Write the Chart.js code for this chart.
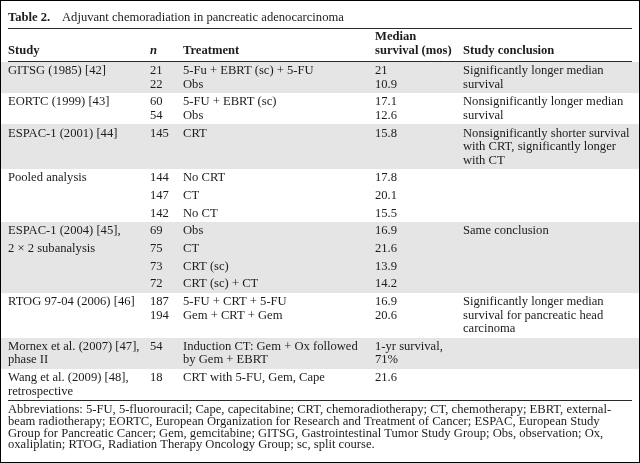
<!DOCTYPE html>
<html>
<head>
<meta charset="utf-8">
<script src="https://cdn.jsdelivr.net/npm/chart.js@4/dist/chart.umd.min.js"></script>
<style>
  html, body { margin: 0; padding: 0; background: #ffffff; }
  #wrap { width: 640px; height: 463px; position: relative; }
</style>
</head>
<body>
<div id="wrap"><canvas id="c" width="640" height="463"></canvas></div>
<script>
// ---------- DATA ----------
const tableNumber = "Table 2.";
const tableTitle = "Adjuvant chemoradiation in pancreatic adenocarcinoma";

const headers = [["Study"], ["n"], ["Treatment"], ["Median", "survival (mos)"], ["Study conclusion"]];

const studies = [
  ["GITSG (1985) [42]"],
  ["EORTC (1999) [43]"],
  ["ESPAC-1 (2001) [44]"],
  ["Pooled analysis"],
  [],
  [],
  ["ESPAC-1 (2004) [45],"],
  ["2 \u00d7 2 subanalysis"],
  [],
  [],
  ["RTOG 97-04 (2006) [46]"],
  ["Mornex et al. (2007) [47],", "phase II"],
  ["Wang et al. (2009) [48],", "retrospective"]
];

const patients = [
  ["21", "22"],
  ["60", "54"],
  ["145"],
  ["144"],
  ["147"],
  ["142"],
  ["69"],
  ["75"],
  ["73"],
  ["72"],
  ["187", "194"],
  ["54"],
  ["18"]
];

const treatments = [
  ["5-Fu + EBRT (sc) + 5-FU", "Obs"],
  ["5-FU + EBRT (sc)", "Obs"],
  ["CRT"],
  ["No CRT"],
  ["CT"],
  ["No CT"],
  ["Obs"],
  ["CT"],
  ["CRT (sc)"],
  ["CRT (sc) + CT"],
  ["5-FU + CRT + 5-FU", "Gem + CRT + Gem"],
  ["Induction CT: Gem + Ox followed", "by Gem + EBRT"],
  ["CRT with 5-FU, Gem, Cape"]
];

const medianSurvival = [
  ["21", "10.9"],
  ["17.1", "12.6"],
  ["15.8"],
  ["17.8"],
  ["20.1"],
  ["15.5"],
  ["16.9"],
  ["21.6"],
  ["13.9"],
  ["14.2"],
  ["16.9", "20.6"],
  ["1-yr survival,", "71%"],
  ["21.6"]
];

const conclusions = [
  ["Significantly longer median", "survival"],
  ["Nonsignificantly longer median", "survival"],
  ["Nonsignificantly shorter survival", "with CRT, significantly longer", "with CT"],
  [],
  [],
  [],
  ["Same conclusion"],
  [],
  [],
  [],
  ["Significantly longer median", "survival for pancreatic head", "carcinoma"],
  [],
  []
];

// study group each row belongs to (alternate groups are shaded)
const studyGroup = [0, 1, 2, 3, 3, 3, 4, 4, 4, 4, 5, 6, 7];

const footnote = [
  "Abbreviations: 5-FU, 5-fluorouracil; Cape, capecitabine; CRT, chemoradiotherapy; CT, chemotherapy; EBRT, external-",
  "beam radiotherapy; EORTC, European Organization for Research and Treatment of Cancer; ESPAC, European Study",
  "Group for Pancreatic Cancer; Gem, gemcitabine; GITSG, Gastrointestinal Tumor Study Group; Obs, observation; Ox,",
  "oxaliplatin; RTOG, Radiation Therapy Oncology Group; sc, split course."
];

// ---------- LAYOUT / STYLE ----------
const W = 640, H = 463;
const FONT = "'Liberation Serif', 'Times New Roman', serif";
const FS = 12.6;
const TEXT = "#1c1c1c";
const SHADE = "#e5e5e5";
const RULE = "#2a2a2a";
const COLX = [8, 150, 183, 375, 463];
const RULE_L = 8, RULE_R = 632;
const TITLE_Y = 18, TITLE_X2 = 62, TITLE_RULE = 28;
const HEAD_Y2 = 51, HEAD_LH = 14, HEAD_RULE = 61;
const BODY_TOP = 62, LH = 13.5, PAD = 4.2;
const FOOT_RULE = 400, FOOT_Y = 410, FOOT_LH = 11.7;

const columns = [studies, patients, treatments, medianSurvival, conclusions];

const tablePlugin = {
  id: 'tablePlugin',
  beforeDraw(chart) {
    const ctx = chart.ctx;
    const xs = chart.scales.x, ys = chart.scales.y;
    const px = v => xs.getPixelForValue(v);
    const py = v => ys.getPixelForValue(v);

    ctx.save();
    ctx.fillStyle = '#ffffff';
    ctx.fillRect(0, 0, W, H);

    // row layout
    let y = BODY_TOP;
    const rows = [];
    for (let i = 0; i < studies.length; i++) {
      const lines = Math.max(1, ...columns.map(c => c[i].length));
      const h = lines * LH + PAD;
      rows.push({ top: y, h: h });
      y += h;
    }

    // shading bands
    ctx.fillStyle = SHADE;
    rows.forEach((r, i) => {
      if (studyGroup[i] % 2 === 0) {
        const t = py(r.top), b = py(r.top + r.h);
        ctx.fillRect(px(1), Math.round(t), px(W - 1) - px(1), Math.round(b) - Math.round(t));
      }
    });

    // rules
    ctx.strokeStyle = RULE;
    ctx.lineWidth = 1;
    [TITLE_RULE, HEAD_RULE, FOOT_RULE].forEach(ry => {
      const yy = Math.round(py(ry)) + 0.5;
      ctx.beginPath();
      ctx.moveTo(px(RULE_L), yy);
      ctx.lineTo(px(RULE_R), yy);
      ctx.stroke();
    });

    // title
    ctx.fillStyle = TEXT;
    ctx.textBaseline = 'middle';
    ctx.textAlign = 'left';
    ctx.font = `bold ${FS}px ${FONT}`;
    ctx.fillText(tableNumber, px(COLX[0]), py(TITLE_Y));
    ctx.font = `${FS}px ${FONT}`;
    ctx.fillText(tableTitle, px(TITLE_X2), py(TITLE_Y));

    // headers (bottom-aligned)
    headers.forEach((hd, c) => {
      ctx.font = (c === 1 ? 'italic bold ' : 'bold ') + `${FS}px ${FONT}`;
      hd.forEach((t, k) => {
        const ly = HEAD_Y2 - (hd.length - 1 - k) * HEAD_LH;
        ctx.fillText(t, px(COLX[c]), py(ly));
      });
    });

    // body
    ctx.font = `${FS}px ${FONT}`;
    rows.forEach((r, i) => {
      columns.forEach((col, c) => {
        col[i].forEach((t, k) => {
          const ly = r.top + PAD / 2 + LH * (k + 0.5);
          ctx.fillText(t, px(COLX[c]), py(ly));
        });
      });
    });

    // footnote
    footnote.forEach((t, k) => {
      ctx.fillText(t, px(COLX[0]), py(FOOT_Y + k * FOOT_LH));
    });

    // frame
    ctx.strokeStyle = '#000000';
    ctx.lineWidth = 1;
    ctx.strokeRect(0.5, 0.5, W - 1, H - 1);
    ctx.restore();
  }
};

new Chart(document.getElementById('c'), {
  type: 'scatter',
  data: { datasets: [{ data: [], pointRadius: 0 }] },
  options: {
    responsive: false,
    animation: false,
    events: [],
    layout: { padding: 0 },
    plugins: { legend: { display: false }, tooltip: { enabled: false }, title: { display: false } },
    scales: {
      x: { type: 'linear', min: 0, max: W, display: false },
      y: { type: 'linear', min: 0, max: H, reverse: true, display: false }
    }
  },
  plugins: [tablePlugin]
});
</script>
</body>
</html>
